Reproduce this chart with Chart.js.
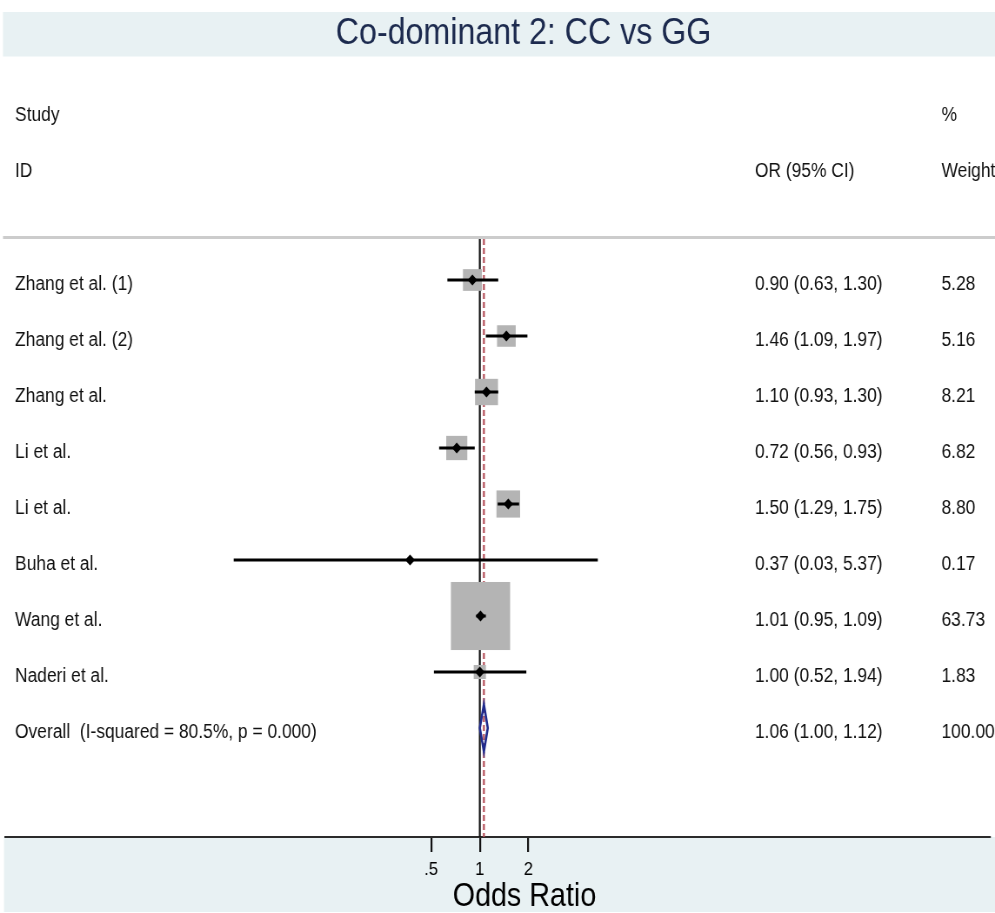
<!DOCTYPE html>
<html>
<head>
<meta charset="utf-8">
<script src="https://cdn.jsdelivr.net/npm/chart.js@4.4.1/dist/chart.umd.min.js"></script>
<style>
  html, body { margin: 0; padding: 0; background: #ffffff; }
  #wrap { width: 995px; height: 913px; overflow: hidden; position: relative; }
  /* the plot is laid out on a wider canvas and squeezed horizontally */
  #forest { position: absolute; left: 0; top: 0; transform: scaleX(0.86976); transform-origin: 0 0; }
</style>
</head>
<body>
<div id="wrap"><canvas id="forest" width="1144" height="913"></canvas></div>
<script>
// Study rows
const studies   = ['Zhang et al. (1)', 'Zhang et al. (2)', 'Zhang et al.', 'Li et al.', 'Li et al.', 'Buha et al.', 'Wang et al.', 'Naderi et al.'];
const oddsRatio = [0.90, 1.46, 1.10, 0.72, 1.50, 0.37, 1.01, 1.00];
const ciLower   = [0.63, 1.09, 0.93, 0.56, 1.29, 0.03, 0.95, 0.52];
const ciUpper   = [1.30, 1.97, 1.30, 0.93, 1.75, 5.37, 1.09, 1.94];
const weights   = [5.28, 5.16, 8.21, 6.82, 8.80, 0.17, 63.73, 1.83];

// Pooled estimate: [OR, lower, upper], weight
const overallLabel  = 'Overall  (I-squared = 80.5%, p = 0.000)';
const overallEst    = [1.06, 1.00, 1.12];
const overallWeight = 100.00;

// Axis ticks
const xTicks      = [0.5, 1, 2];
const xTickLabels = ['.5', '1', '2'];

const FONT = '"Liberation Sans", Arial, Helvetica, sans-serif';
const BAND = '#e8f1f3';
const TEXT = '#111111';

// table columns (canvas px)
const COL_STUDY = 17.3, COL_CI = 868, COL_WT = 1082.5;

const ciText = (o, l, u) => o.toFixed(2) + ' (' + l.toFixed(2) + ', ' + u.toFixed(2) + ')';

const forestDecor = {
  id: 'forestDecor',
  beforeDraw(chart) {
    const { ctx, chartArea, width } = chart;
    ctx.save();
    ctx.fillStyle = '#ffffff';
    ctx.fillRect(0, 0, width, chart.height);
    ctx.fillStyle = BAND;
    ctx.fillRect(3.45, 12, width, 44.5);
    ctx.fillRect(4.6, chartArea.bottom, width, 75);

    // title
    ctx.fillStyle = '#1c2a4e';
    ctx.font = '37px ' + FONT;
    ctx.textAlign = 'center';
    ctx.textBaseline = 'middle';
    ctx.fillText('Co-dominant 2: CC vs GG', 602, 34);

    // axis title
    ctx.fillStyle = '#000000';
    ctx.font = '33px ' + FONT;
    ctx.fillText('Odds Ratio', 603, 897);

    // column headers
    ctx.fillStyle = TEXT;
    ctx.font = '20px ' + FONT;
    ctx.textAlign = 'left';
    ctx.textBaseline = 'alphabetic';
    ctx.fillText('Study', COL_STUDY, 121);
    ctx.fillText('ID', COL_STUDY, 177);
    ctx.fillText('OR (95% CI)', COL_CI, 177);
    ctx.fillText('%', COL_WT, 121);
    ctx.fillText('Weight', COL_WT, 177);

    // header rule
    ctx.strokeStyle = '#cccccc';
    ctx.lineWidth = 3;
    ctx.beginPath();
    ctx.moveTo(3.45, chartArea.top - 0.5);
    ctx.lineTo(width, chartArea.top - 0.5);
    ctx.stroke();
    ctx.restore();
  },
  beforeDatasetsDraw(chart) {
    const { ctx, chartArea, scales: { x, y } } = chart;
    ctx.save();
    // line of no effect
    const x1 = x.getPixelForValue(1);
    ctx.strokeStyle = '#111111';
    ctx.lineWidth = 2.2;
    ctx.beginPath();
    ctx.moveTo(x1, chartArea.top + 1);
    ctx.lineTo(x1, chartArea.bottom);
    ctx.stroke();
    // pooled estimate line
    const xo = x.getPixelForValue(overallEst[0]);
    ctx.strokeStyle = '#b5525c';
    ctx.lineWidth = 2.2;
    ctx.setLineDash([6, 3]);
    ctx.beginPath();
    ctx.moveTo(xo, chartArea.top + 1);
    ctx.lineTo(xo, chartArea.bottom);
    ctx.stroke();
    ctx.setLineDash([]);
    // weight boxes, area grows with study weight
    ctx.fillStyle = '#b4b4b4';
    studies.forEach((_, i) => {
      const s = 3 + 8.15 * Math.sqrt(weights[i]);
      const cx = x.getPixelForValue(oddsRatio[i]);
      const cy = y.getPixelForValue(i);
      ctx.fillRect(cx - s / 2, cy - s / 2, s, s);
    });
    ctx.restore();
  },
  afterDatasetsDraw(chart) {
    const { ctx, scales: { x, y } } = chart;
    ctx.save();
    // pooled diamond
    const row = studies.length;
    const cy = y.getPixelForValue(row);
    ctx.strokeStyle = '#1f2a8c';
    ctx.lineWidth = 2.6;
    ctx.beginPath();
    ctx.moveTo(x.getPixelForValue(overallEst[1]), cy);
    ctx.lineTo(x.getPixelForValue(overallEst[0]), cy - 23.5);
    ctx.lineTo(x.getPixelForValue(overallEst[2]), cy);
    ctx.lineTo(x.getPixelForValue(overallEst[0]), cy + 23.5);
    ctx.closePath();
    ctx.stroke();

    // row text
    ctx.fillStyle = TEXT;
    ctx.font = '20px ' + FONT;
    ctx.textAlign = 'left';
    ctx.textBaseline = 'alphabetic';
    studies.forEach((name, i) => {
      const by = y.getPixelForValue(i) + 9.5;
      ctx.fillText(name, COL_STUDY, by);
      ctx.fillText(ciText(oddsRatio[i], ciLower[i], ciUpper[i]), COL_CI, by);
      ctx.fillText(weights[i].toFixed(2), COL_WT, by);
    });
    const by = cy + 9.5;
    ctx.fillText(overallLabel, COL_STUDY, by);
    ctx.fillText(ciText(overallEst[0], overallEst[1], overallEst[2]), COL_CI, by);
    ctx.fillText(overallWeight.toFixed(2), COL_WT, by);
    ctx.restore();
  }
};

// one line per study for its confidence interval
const ciDatasets = studies.map((name, i) => ({
  type: 'line',
  label: name + ' 95% CI',
  data: [{ x: ciLower[i], y: i }, { x: ciUpper[i], y: i }],
  borderColor: '#000000',
  borderWidth: 3,
  borderCapStyle: 'butt',
  pointRadius: 0,
  fill: false,
  order: 1
}));

new Chart(document.getElementById('forest'), {
  type: 'scatter',
  data: {
    datasets: [
      {
        label: 'OR',
        data: oddsRatio.map((v, i) => ({ x: v, y: i })),
        pointStyle: 'rectRot',
        pointRadius: 5.5,
        backgroundColor: '#000000',
        borderColor: '#000000',
        borderWidth: 0,
        order: 0
      },
      ...ciDatasets
    ]
  },
  options: {
    responsive: false,
    animation: false,
    events: [],
    layout: { padding: { left: 3.45, right: 0, top: 238, bottom: 0 } },
    plugins: {
      legend: { display: false },
      tooltip: { enabled: false },
      title: { display: false }
    },
    scales: {
      x: {
        type: 'logarithmic',
        position: 'bottom',
        min: 0.00115,
        max: 1440,
        bounds: 'data',
        offset: false,
        afterBuildTicks: (s) => { s.ticks = xTicks.map(v => ({ value: v })); },
        afterFit: (s) => { s.height = 76; },
        ticks: {
          autoSkip: false,
          maxRotation: 0,
          padding: 6,
          color: '#000000',
          font: { family: FONT, size: 19 },
          callback: (v, i) => xTickLabels[i]
        },
        grid: {
          display: true,
          offset: false,
          drawOnChartArea: false,
          drawTicks: true,
          tickLength: 15,
          color: '#111111',
          lineWidth: 2.2
        },
        border: { display: true, color: '#2b2b2b', width: 2 },
        title: { display: false }
      },
      y: {
        type: 'linear',
        min: -0.75,
        max: 9.946,
        bounds: 'data',
        offset: false,
        reverse: true,
        display: false
      }
    }
  },
  plugins: [forestDecor]
});
</script>
</body>
</html>
